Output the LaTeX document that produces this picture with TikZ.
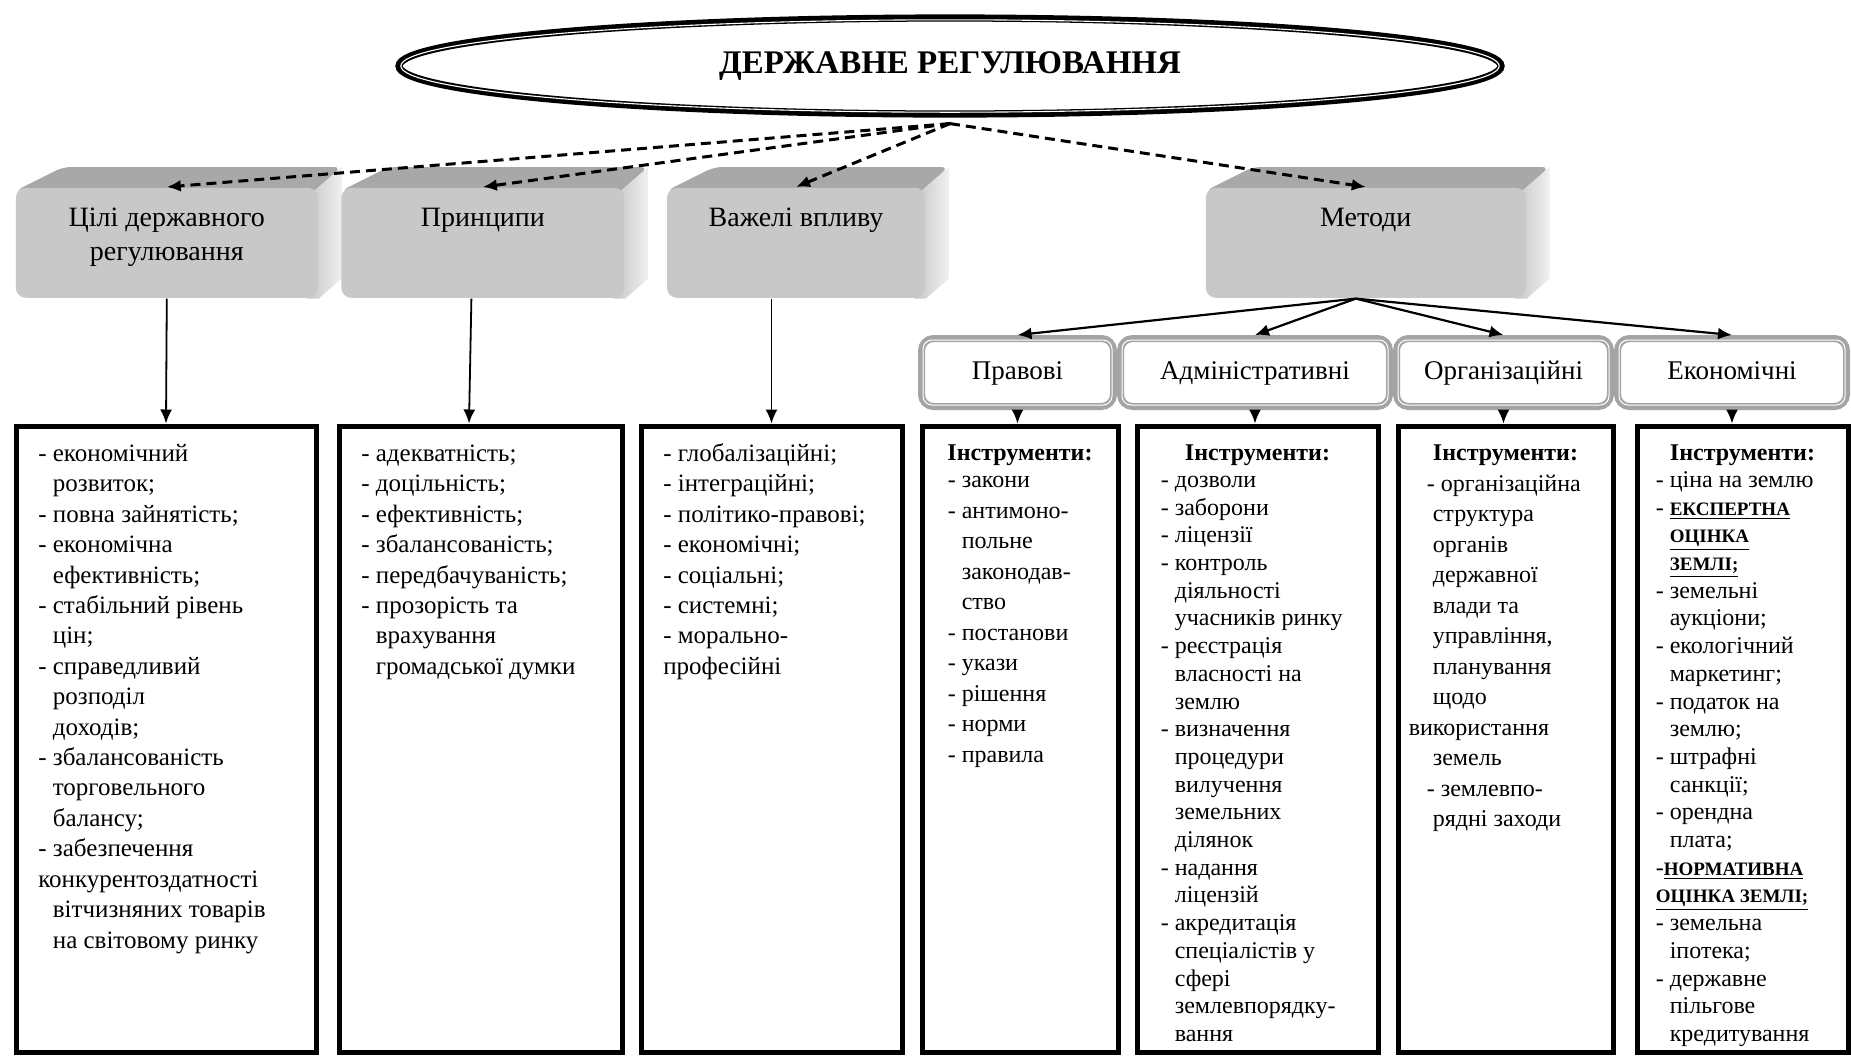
\documentclass[tikz,border=0pt]{standalone}
\usepackage{fontspec}
\setmainfont{Liberation Serif}
\usepackage{xcolor}
\usepackage{tikz}
\usetikzlibrary{positioning}
\usetikzlibrary{arrows.meta}
\usetikzlibrary{shapes.geometric}
\usetikzlibrary{backgrounds}
\definecolor{faceGray}{HTML}{C8C8C8}
\definecolor{topGray}{HTML}{A8A8A8}
\definecolor{sideDark}{HTML}{C6C6C6}
\definecolor{sideLight}{HTML}{F0F0F0}
\definecolor{frameGray}{HTML}{A4A4A4}
\tikzset{edge/.style = {->,> = {Latex[length=7pt,width=6pt]}, line width=0.9pt}}
\tikzset{dashedge/.style = {->,> = {Latex[length=7pt,width=6pt]}, line width=1.5pt, dash pattern=on 5pt off 3pt}}
\newcommand{\ind}{\hphantom{-}\ }
\newcommand{\ulcaps}[1]{\underline{\bfseries\fontsize{9.5}{13.8}\selectfont #1}}
% top and right faces of a grey block, behind the front face
\newcommand{\drawbevel}[1]{%
  \begin{scope}[on background layer]
    \fill[topGray, rounded corners=4pt] ([yshift=-2pt]#1.north west) -- ([shift={(24pt,10pt)}]#1.north west)
      -- ([shift={(11.5pt,10pt)}]#1.north east) -- ([shift={(-5.75pt,-5pt)}]#1.north east) -- cycle;
    \shade[left color=sideDark, right color=sideLight] ([shift={(-5.75pt,-5pt)}]#1.north east)
      -- ([shift={(11.5pt,10pt)}]#1.north east) -- ([shift={(11.5pt,10pt)}]#1.south east)
      -- (#1.south east) -- ([xshift=-5.75pt]#1.south east) -- cycle;
  \end{scope}}

\begin{document}
\begin{tikzpicture}[x=0.5pt, y=-0.5pt, thick,
    titlenode/.style={ellipse, draw, line width=3.6pt, minimum width=551pt, minimum height=48pt, inner sep=0pt, font=\bfseries\fontsize{16.5}{20}\selectfont},
    gbox/.style={rectangle, rounded corners=5pt, fill=faceGray, minimum width=151pt, minimum height=55pt, inner sep=0pt},
    glabel/.style={font=\fontsize{14}{17}\selectfont, align=center, inner sep=0pt, anchor=north},
    listbox/.style={draw, line width=2.5pt, minimum height=313pt, inner sep=0pt},
    listtext/.style={font=\fontsize{12.5}{15.2}\selectfont, align=left, inner sep=0pt, anchor=north west},
    tooltext/.style={font=\fontsize{12}{15.25}\selectfont, align=left, inner sep=0pt, anchor=north west},
    tighttext/.style={tooltext, font=\fontsize{12}{13.85}\selectfont},
    heading/.style={font=\bfseries\fontsize{12}{14}\selectfont, inner sep=0pt, anchor=base},
    mframe/.style={draw=frameGray, line width=3.5pt, rounded corners=6pt, fill=white, minimum height=34pt, inner sep=0pt, text height=9.5pt, text depth=3pt, font=\fontsize{13.5}{16}\selectfont}]
\useasboundingbox (0,0) rectangle (1851,1056);
\begin{scope}[on background layer]
  \fill[white] (0,0) rectangle (1851,1056);
\end{scope}

% title
\node[titlenode] (ttl) at (950,66) {ДЕРЖАВНЕ РЕГУЛЮВАННЯ};
\draw[white, line width=0.55pt] (ttl.center) ellipse [x radius=274.6pt, y radius=23.1pt];

% grey blocks
\node[gbox, anchor=north west] (g1) at (15,187) {};
\node[gbox, minimum width=141.5pt, right=11pt of g1] (g2) {};
\node[gbox, minimum width=129pt, right=20.5pt of g2] (g3) {};
\node[gbox, minimum width=160pt, anchor=north west] (g4) at (1205,187) {};
\foreach \g in {g1,g2,g3,g4} \drawbevel{\g};

\node[glabel, below=7.5pt of g1.north] (l1) {\strut Цілі державного\\регулювання};
\node[glabel, below=7.5pt of g2.north] (l2) {\strut Принципи};
\node[glabel, below=7.5pt of g3.north] (l3) {\strut Важелі впливу};
\node[glabel, below=7.5pt of g4.north] (l4) {\strut Методи};

% methods row
\node[mframe, minimum width=96pt, anchor=north west] (mP) at (918,335) {Правові};
\node[mframe, minimum width=134.5pt, right=0pt of mP] (mA) {Адміністративні};
\node[mframe, minimum width=107pt, right=0pt of mA] (mO) {Організаційні};
\node[mframe, minimum width=114.5pt, right=0pt of mO] (mE) {Економічні};
\foreach \m in {mP,mA,mO,mE}
  \draw[white, line width=0.5pt, rounded corners=4.5pt] ([shift={(2.5pt,-2.5pt)}]\m.north west) rectangle ([shift={(-2.5pt,2.5pt)}]\m.south east);

% list boxes
\node[listbox, minimum width=150pt, anchor=north west] (A) at (13.5,423.5) {};
\node[listbox, minimum width=141.5pt, right=9pt of A] (B) {};
\node[listbox, minimum width=130.5pt, right=7pt of B] (C) {};
\node[listbox, minimum width=98pt, right=7.5pt of C] (D) {};
\node[listbox, minimum width=120.5pt, right=7pt of D] (E) {};
\node[listbox, minimum width=107.5pt, right=7.5pt of E] (F) {};
\node[listbox, minimum width=105.5pt, right=9.5pt of F] (G) {};

\node[listtext] (tA) at ([shift={(12pt,-8pt)}]A.north west) {\strut- економічний\\
  \ind розвиток;\\
  - повна зайнятість;\\
  - економічна\\
  \ind ефективність;\\
  - стабільний рівень\\
  \ind цін;\\
  - справедливий\\
  \ind розподіл\\
  \ind доходів;\\
  - збалансованість\\
  \ind торговельного\\
  \ind балансу;\\
  - забезпечення\\
  конкурентоздатності\\
  \ind вітчизняних товарів\\
  \ind на світовому ринку};
\node[listtext] (tB) at ([shift={(12pt,-8pt)}]B.north west) {\strut- адекватність;\\
  - доцільність;\\
  - ефективність;\\
  - збалансованість;\\
  - передбачуваність;\\
  - прозорість та\\
  \ind врахування\\
  \ind громадської думки};
\node[listtext] (tC) at ([shift={(12pt,-8pt)}]C.north west) {\strut- глобалізаційні;\\
  - інтеграційні;\\
  - політико-правові;\\
  - економічні;\\
  - соціальні;\\
  - системні;\\
  - морально-\\
  професійні};

\node[heading] (hD) at ([yshift=-18.5pt]D.north) {Інструменти:};
\node[heading] (hE) at ([yshift=-18.5pt]E.north) {Інструменти:};
\node[heading] (hF) at ([yshift=-18.5pt]F.north) {Інструменти:};
\node[heading] (hG) at ([yshift=-18.5pt]G.north) {Інструменти:};

\node[tooltext] (tD) at ([shift={(13.75pt,-21pt)}]D.north west) {\strut- закони\\
  - антимоно-\\
  \ind польне\\
  \ind законодав-\\
  \ind ство\\
  - постанови\\
  - укази\\
  - рішення\\
  - норми\\
  - правила};
\node[tighttext] (tE) at ([shift={(12.75pt,-21.85pt)}]E.north west) {\strut- дозволи\\
  - заборони\\
  - ліцензії\\
  - контроль\\
  \ind діяльності\\
  \ind учасників ринку\\
  - реєстрація\\
  \ind власності на\\
  \ind землю\\
  - визначення\\
  \ind процедури\\
  \ind вилучення\\
  \ind земельних\\
  \ind ділянок\\
  - надання\\
  \ind ліцензій\\
  - акредитація\\
  \ind спеціалістів у\\
  \ind сфері\\
  \ind землевпорядку-\\
  \ind вання};
\node[tooltext] (tF) at ([shift={(6.25pt,-22.75pt)}]F.north west) {\strut\hspace*{9pt}- організаційна\\
  \hspace*{12pt}структура\\
  \hspace*{12pt}органів\\
  \hspace*{12pt}державної\\
  \hspace*{12pt}влади та\\
  \hspace*{12pt}управління,\\
  \hspace*{12pt}планування\\
  \hspace*{12pt}щодо\\
  використання\\
  \hspace*{12pt}земель\\
  \hspace*{9pt}- землевпо-\\
  \hspace*{12pt}рядні заходи};
\node[tighttext] (tG) at ([shift={(10.25pt,-21.85pt)}]G.north west) {\strut- ціна на землю\\
  - \ulcaps{ЕКСПЕРТНА}\\
  \ind\ulcaps{ОЦІНКА}\\
  \ind\ulcaps{ЗЕМЛІ;}\\
  - земельні\\
  \ind аукціони;\\
  - екологічний\\
  \ind маркетинг;\\
  - податок на\\
  \ind землю;\\
  - штрафні\\
  \ind санкції;\\
  - орендна\\
  \ind плата;\\
  -\ulcaps{НОРМАТИВНА}\\
  \ulcaps{ОЦІНКА ЗЕМЛІ;}\\
  - земельна\\
  \ind іпотека;\\
  - державне\\
  \ind пільгове\\
  \ind кредитування};

% connectors
\path[dashedge] ([yshift=-3pt]ttl.south) edge (g1.north)
  ([yshift=-3pt]ttl.south) edge (g2.north)
  ([yshift=-3pt]ttl.south) edge (g3.north)
  ([yshift=-3pt]ttl.south) edge (g4.north);
\path[edge] (g1.south) edge (A.north)
  ([xshift=-5.75pt]g2.south) edge ([xshift=-5.75pt]B.north)
  (C.north |- g3.south) edge (C.north);
\path[edge, line width=1.1pt] ([xshift=-5pt]g4.south) edge (mP.north)
  ([xshift=-5pt]g4.south) edge (mA.north)
  ([xshift=-5pt]g4.south) edge (mO.north)
  ([xshift=-5pt]g4.south) edge (mE.north);
\path[edge] (mP.south) edge (mP.south |- D.north)
  (mA.south) edge (mA.south |- E.north)
  (mO.south) edge (mO.south |- F.north)
  (mE.south) edge (mE.south |- G.north);
\end{tikzpicture}
\end{document}
